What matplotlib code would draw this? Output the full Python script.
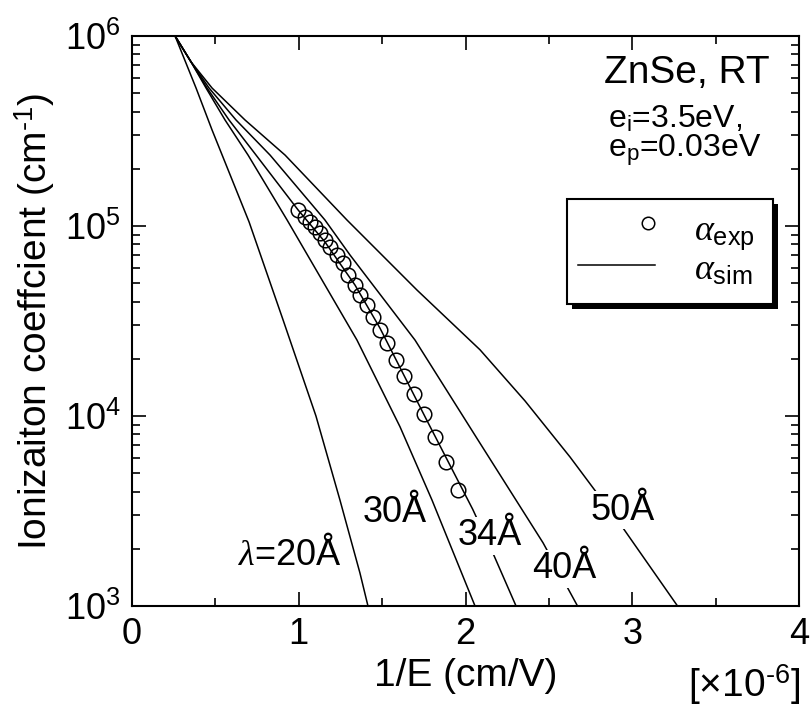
import matplotlib
matplotlib.use("Agg")
import matplotlib.pyplot as plt
from matplotlib.patches import Rectangle
from matplotlib.lines import Line2D
from matplotlib.ticker import FixedLocator, MultipleLocator, LogLocator, NullFormatter

plt.rcParams['font.family'] = ['Liberation Sans', 'DejaVu Sans']
plt.rcParams['mathtext.fontset'] = 'custom'
plt.rcParams['mathtext.rm'] = 'Liberation Sans'
plt.rcParams['mathtext.it'] = 'Liberation Serif:italic'
plt.rcParams['mathtext.bf'] = 'Liberation Sans:bold'

# Measured ionization coefficient (1/E in 1e-6 cm/V, alpha in cm^-1)
inv_e_exp = [0.997, 1.037, 1.067, 1.097, 1.127, 1.157, 1.187, 1.228, 1.264, 1.297,
             1.337, 1.367, 1.408, 1.447, 1.487, 1.531, 1.583, 1.634, 1.694, 1.754,
             1.817, 1.885, 1.957]
alpha_exp = [1.21e5, 1.12e5, 1.05e5, 9.84e4, 9.15e4, 8.44e4, 7.72e4, 7.04e4, 6.36e4, 5.52e4,
             4.89e4, 4.33e4, 3.84e4, 3.33e4, 2.84e4, 2.42e4, 1.98e4, 1.63e4, 1.31e4, 1.03e4,
             7.74e3, 5.74e3, 4.08e3]

# Simulated curves for several mean free paths
inv_e_20 = [0.258, 0.384, 0.480, 0.702, 0.906, 1.103, 1.247, 1.367, 1.415]
alpha_20 = [1.0e6, 5.32e5, 3.20e5, 1.05e5, 3.20e4, 1.0e4, 3.61e3, 1.49e3, 1.0e3]

inv_e_30 = [0.258, 0.354, 0.444, 0.558, 0.696, 0.930, 1.349, 1.607, 1.799, 2.057]
alpha_30 = [1.0e6, 7.30e5, 5.32e5, 3.61e5, 2.36e5, 1.075e5, 2.51e4, 8.78e3, 3.61e3, 1.0e3]

inv_e_34 = [0.258, 0.354, 0.450, 0.582, 0.744, 0.996, 1.157, 1.337, 1.487, 1.767,
            2.043, 2.163, 2.303]
alpha_34 = [1.0e6, 7.30e5, 5.32e5, 3.61e5, 2.36e5, 1.214e5, 8.24e4, 4.89e4, 2.90e4, 9.53e3,
            3.23e3, 1.91e3, 1.0e3]

inv_e_40 = [0.258, 0.354, 0.462, 0.624, 0.828, 1.157, 1.307, 1.697, 2.075, 2.465, 2.669]
alpha_40 = [1.0e6, 7.30e5, 5.32e5, 3.61e5, 2.36e5, 1.075e5, 7.04e4, 2.51e4, 7.47e3, 2.15e3, 1.01e3]

inv_e_50 = [0.258, 0.354, 0.480, 0.678, 0.918, 1.289, 1.709, 2.087, 2.357, 2.627, 2.945, 3.268]
alpha_50 = [1.0e6, 7.30e5, 5.32e5, 3.61e5, 2.36e5, 1.075e5, 4.60e4, 2.23e4, 1.20e4, 6.08e3,
            2.57e3, 1.01e3]

curve_labels = [r'$\lambda$=20Å', '30Å', '34Å', '40Å', '50Å']
label_x = [0.948, 1.574, 2.144, 2.593, 2.941]
label_y = [1.64e3, 2.77e3, 2.09e3, 1.40e3, 2.84e3]
label_gap = [False, False, True, True, True]

x_ticks = [0, 1, 2, 3, 4]
y_ticks = [1e3, 1e4, 1e5, 1e6]

fig = plt.figure(figsize=(8.1, 7.08), dpi=100)
ax = fig.add_axes([0.163, 0.1441, 0.8234, 0.8051])

lw = 1.1
for xs, ys in [(inv_e_20, alpha_20), (inv_e_30, alpha_30), (inv_e_34, alpha_34),
               (inv_e_40, alpha_40), (inv_e_50, alpha_50)]:
    ax.plot(xs, ys, color='black', lw=lw, zorder=2, solid_joinstyle='round')

ax.plot(inv_e_exp, alpha_exp, linestyle='none', marker='o', ms=10.5,
        mfc='none', mec='black', mew=1.1, zorder=3)

for txt, lx, ly, gap in zip(curve_labels, label_x, label_y, label_gap):
    kw = {}
    if gap:
        kw['bbox'] = dict(facecolor='white', edgecolor='none', pad=1.0)
    ax.text(lx, ly, txt, ha='center', va='baseline', fontsize=26, zorder=4, **kw)

ax.set_yscale('log')
ax.set_xlim(0, 4)
ax.set_ylim(1e3, 1e6)
ax.xaxis.set_major_locator(FixedLocator(x_ticks))
ax.xaxis.set_minor_locator(MultipleLocator(0.5))
ax.yaxis.set_major_locator(FixedLocator(y_ticks))
ax.yaxis.set_minor_locator(LogLocator(base=10, subs=range(2, 10)))
ax.yaxis.set_minor_formatter(NullFormatter())

ax.tick_params(which='both', direction='in', top=True, right=True, width=1.2)
ax.tick_params(which='major', length=10, labelsize=26, pad=8)
ax.tick_params(which='minor', length=5.5)
for s in ax.spines.values():
    s.set_linewidth(1.5)

ax.set_xlabel('1/E (cm/V)', fontsize=28)
ax.xaxis.set_label_coords(0.5, -0.092)
ax.set_ylabel(r'Ionizaiton coeffcient (cm$^{\text{-}1}$)', fontsize=28)
ax.yaxis.set_label_coords(-0.112, 0.5)

ax.text(1.0015, -0.16, r'[$\times$10$^{\text{-}6}$]', transform=ax.transAxes,
        ha='right', va='baseline', fontsize=28)

# Material / parameter annotations
ax.text(0.9565, 0.9175, 'ZnSe, RT', transform=ax.transAxes,
        ha='right', va='baseline', fontsize=28)
ax.text(0.7136, 0.8386, r'e$_{\rm i}$=3.5eV,', transform=ax.transAxes,
        ha='left', va='baseline', fontsize=23)
ax.text(0.7136, 0.7877, r'e$_{\rm p}$=0.03eV', transform=ax.transAxes,
        ha='left', va='baseline', fontsize=23)

# Legend box with solid drop shadow
bx0, by0, bx1, by1 = 0.652, 0.530, 0.961, 0.714
sx, sy = 0.0075, 0.009
ax.add_patch(Rectangle((bx0 + sx, by0 - sy), bx1 - bx0, by1 - by0, transform=ax.transAxes,
                       facecolor='black', edgecolor='black', lw=0, zorder=5, clip_on=False))
ax.add_patch(Rectangle((bx0, by0), bx1 - bx0, by1 - by0, transform=ax.transAxes,
                       facecolor='white', edgecolor='black', lw=1.5, zorder=6, clip_on=False))
ax.add_line(Line2D([0.774], [0.672], transform=ax.transAxes, linestyle='none', marker='o',
                   ms=9, mfc='none', mec='black', mew=1.1, zorder=7))
ax.add_line(Line2D([0.669, 0.784], [0.598, 0.598], transform=ax.transAxes,
                   color='black', lw=lw, zorder=7))
ax.text(0.842, 0.642, r'$\alpha_{\rm exp}$', transform=ax.transAxes,
        ha='left', va='baseline', fontsize=26, zorder=7)
ax.text(0.842, 0.572, r'$\alpha_{\rm sim}$', transform=ax.transAxes,
        ha='left', va='baseline', fontsize=26, zorder=7)

fig.savefig('out.png', dpi=100)
